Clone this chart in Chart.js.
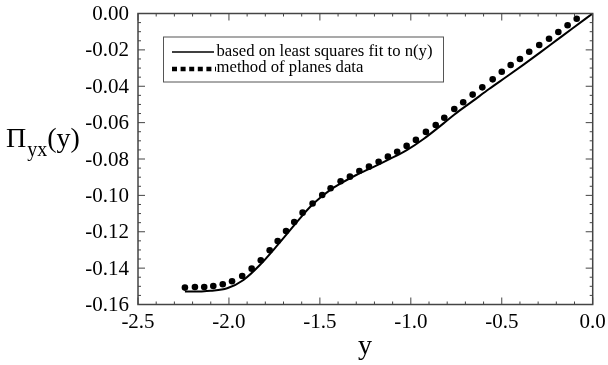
<!DOCTYPE html>
<html>
<head>
<meta charset="utf-8">
<script src="https://cdn.jsdelivr.net/npm/chart.js@4"></script>
<style>
  body { margin: 0; background: #fff; }
</style>
</head>
<body>
<canvas id="chart" width="608" height="365"></canvas>
<script>
// least squares fit curve
var fitX = [-2.242, -2.15, -2.1, -2.01, -1.92, -1.83, -1.74, -1.65, -1.6, -1.55, -1.5, -1.45, -1.39, -1.3, -1.21,
  -1.12, -1.02, -0.93, -0.82, -0.76, -0.66, -0.57, -0.47, -0.38, -0.29, -0.2, -0.11, 0.0];
var fitY = [-0.1529, -0.1528, -0.1525, -0.1511, -0.1465, -0.1383, -0.1282, -0.1175, -0.1115, -0.106, -0.1015,
  -0.0975, -0.0937, -0.0888, -0.0846, -0.0802, -0.075, -0.069, -0.0604, -0.0555, -0.0482, -0.0415, -0.0345,
  -0.0281, -0.0215, -0.0148, -0.0081, 0.0];

// method of planes data
var planesX = [-2.242, -2.187, -2.136, -2.086, -2.034, -1.983, -1.927, -1.875, -1.825, -1.776, -1.732, -1.686,
  -1.641, -1.595, -1.54, -1.487, -1.441, -1.386, -1.335, -1.283, -1.23, -1.177, -1.126, -1.075, -1.023, -0.972,
  -0.917, -0.863, -0.816, -0.761, -0.712, -0.66, -0.607, -0.55, -0.5, -0.451, -0.4, -0.349, -0.294, -0.24,
  -0.189, -0.138, -0.088];
var planesY = [-0.1507, -0.1504, -0.1504, -0.1498, -0.1489, -0.1472, -0.1443, -0.1403, -0.1357, -0.1302, -0.1251,
  -0.1196, -0.1146, -0.1095, -0.1045, -0.0998, -0.0961, -0.0922, -0.0897, -0.0866, -0.0842, -0.0815, -0.0787,
  -0.076, -0.0728, -0.0695, -0.0651, -0.0613, -0.0573, -0.0525, -0.0488, -0.0446, -0.0406, -0.0362, -0.032,
  -0.0283, -0.025, -0.021, -0.0173, -0.0139, -0.0102, -0.0065, -0.0029];

var xTickValues = [-2.5, -2.0, -1.5, -1.0, -0.5, 0.0];
var xTickLabels = ["-2.5", "-2.0", "-1.5", "-1.0", "-0.5", "0.0"];
var yTickValues = [-0.16, -0.14, -0.12, -0.10, -0.08, -0.06, -0.04, -0.02, 0.0];
var yTickLabels = ["-0.16", "-0.14", "-0.12", "-0.10", "-0.08", "-0.06", "-0.04", "-0.02", "0.00"];

var legendLabels = ["based on least squares fit to n(y)", "method of planes data"];

function toPoints(xs, ys) {
  return xs.map(function (x, i) { return { x: x, y: ys[i] }; });
}

var serif = "'Liberation Serif', 'Times New Roman', serif";

// frame, inward ticks on all four sides, tick labels, legend box and axis titles
var decorations = {
  id: "decorations",
  afterDraw: function (chart) {
    var ctx = chart.ctx;
    var a = chart.chartArea;
    var xs = chart.scales.x, ys = chart.scales.y;
    ctx.save();
    ctx.strokeStyle = "#444";
    ctx.lineWidth = 1.5;
    ctx.strokeRect(a.left, a.top, a.right - a.left, a.bottom - a.top);

    ctx.lineWidth = 1;
    ctx.beginPath();
    for (var i = 0; i <= 25; i++) {
      var px = xs.getPixelForValue(-2.5 + i * 0.1);
      var len = i % 5 === 0 ? 7 : 3;
      ctx.moveTo(px, a.bottom); ctx.lineTo(px, a.bottom - len);
      ctx.moveTo(px, a.top); ctx.lineTo(px, a.top + len);
    }
    for (var j = 0; j <= 32; j++) {
      var py = ys.getPixelForValue(-0.16 + j * 0.005);
      var l2 = j % 4 === 0 ? 7 : 3;
      ctx.moveTo(a.left, py); ctx.lineTo(a.left + l2, py);
      ctx.moveTo(a.right, py); ctx.lineTo(a.right - l2, py);
    }
    ctx.stroke();

    // tick labels
    ctx.fillStyle = "#000";
    ctx.font = "21px " + serif;
    ctx.textBaseline = "alphabetic";
    ctx.textAlign = "center";
    xTickValues.forEach(function (v, k) {
      ctx.fillText(xTickLabels[k], xs.getPixelForValue(v), a.bottom + 23);
    });
    ctx.textAlign = "right";
    yTickValues.forEach(function (v, k) {
      ctx.fillText(yTickLabels[k], a.left - 9, ys.getPixelForValue(v) + 6.5);
    });

    // legend
    ctx.fillStyle = "#fff";
    ctx.fillRect(163.5, 37, 280, 45);
    ctx.strokeStyle = "#555";
    ctx.lineWidth = 1;
    ctx.strokeRect(163.5, 37, 280, 45);
    ctx.strokeStyle = "#000";
    ctx.lineWidth = 1.3;
    ctx.beginPath();
    ctx.moveTo(172, 52); ctx.lineTo(214, 52);
    ctx.stroke();
    ctx.lineWidth = 4.5;
    ctx.setLineDash([5, 3.6]);
    ctx.beginPath();
    ctx.moveTo(172, 69); ctx.lineTo(216, 69);
    ctx.stroke();
    ctx.setLineDash([]);
    ctx.fillStyle = "#000";
    ctx.font = "16.7px " + serif;
    ctx.textAlign = "left";
    ctx.fillText(legendLabels[0], 216.5, 56);
    ctx.fillText(legendLabels[1], 216.5, 71.5);

    // axis titles
    ctx.font = "28px " + serif;
    ctx.textAlign = "center";
    ctx.fillText("y", 365, 354);
    ctx.textAlign = "left";
    ctx.fillText("\u03A0", 6, 146.5);
    var w = ctx.measureText("\u03A0").width;
    ctx.font = "20px " + serif;
    ctx.fillText("yx", 6 + w + 1, 156);
    var w2 = ctx.measureText("yx").width;
    ctx.font = "28px " + serif;
    ctx.fillText("(y)", 6 + w + 1 + w2, 146.5);
    ctx.restore();
  }
};

new Chart(document.getElementById("chart"), {
  type: "scatter",
  data: {
    datasets: [
      {
        label: legendLabels[0],
        data: toPoints(fitX, fitY),
        showLine: true,
        borderColor: "#000",
        borderWidth: 2,
        pointRadius: 0,
        cubicInterpolationMode: "monotone",
        order: 2,
      },
      {
        label: legendLabels[1],
        data: toPoints(planesX, planesY),
        showLine: false,
        pointStyle: "circle",
        pointRadius: 3.3,
        borderWidth: 0,
        backgroundColor: "#000",
        order: 1,
      },
    ],
  },
  options: {
    responsive: false,
    animation: false,
    devicePixelRatio: 1,
    layout: {
      padding: { left: 0, right: 15.3, top: 13.5, bottom: 0 },
    },
    plugins: {
      legend: { display: false },
      tooltip: { enabled: false },
    },
    scales: {
      x: {
        type: "linear",
        min: -2.5,
        max: 0,
        grid: { display: false, drawTicks: false },
        border: { display: false },
        afterFit: function (scale) { scale.height = 60.5; },
        ticks: { display: false, stepSize: 0.5 },
      },
      y: {
        type: "linear",
        min: -0.16,
        max: 0,
        grid: { display: false, drawTicks: false },
        border: { display: false },
        afterFit: function (scale) { scale.width = 138; },
        ticks: { display: false, stepSize: 0.02 },
      },
    },
  },
  plugins: [decorations],
});
</script>
</body>
</html>
